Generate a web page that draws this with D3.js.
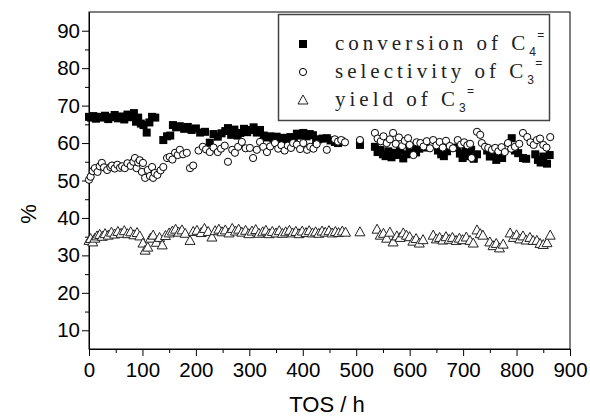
<!DOCTYPE html>
<html>
<head>
<meta charset="utf-8">
<script src="https://cdn.jsdelivr.net/npm/d3@7"></script>
<style>
  body { margin: 0; background: #fff; }
  svg text { font-family: "Liberation Sans", Arial, sans-serif; }
</style>
</head>
<body>
<svg id="chart" width="590" height="416"></svg>
<script>
// time on stream (h) / value (%)
const convT = [0,4,8,13,18,24,30,36,42,48,54,60,66,72,78,84,88,92,97,102,108,113,118,124,139,146,152,157,163,170,178,185,192,200,208,217,226,233,241,248,255,260,266,272,278,283,290,296,301,308,314,320,327,333,339,345,351,357,363,370,377,383,389,395,401,407,413,419,425,429,437,445,452,460,466,472,507,535,540,545,550,555,560,566,571,577,582,588,594,600,606,612,618,624,630,653,659,664,670,689,694,699,705,710,715,720,726,745,750,756,762,768,773,791,797,803,812,818,835,840,845,850,857,862];
const convV = [67,66.8,67.2,66.5,67,66.8,67.3,66.4,66.9,67.5,66.6,67.1,66.3,67.6,66.9,68,65.7,66.8,65.2,64.8,62.8,65.5,67,66.8,60.8,61.8,62,64.8,64.2,64.5,63.8,64.3,63.5,63.9,62.8,63,60.1,62.4,61.7,62.6,63.2,64,62.2,63.6,62,62.7,63.8,62.9,63.5,64.2,62.8,63.5,62,61.5,61.8,61.2,61.7,61,61.4,60.8,61.6,61.2,62.5,62,62.7,61.8,62.4,62.1,60.6,61,61.2,61.3,60.7,60.3,60,60.4,59.5,59,57.6,58.2,57,56.5,57.8,56.2,57.4,56.8,58,55.9,57,59,58.4,57.5,58.5,59.6,58.8,58,57,56.5,57.8,58.8,57.2,56,57.8,56.5,58.2,55.8,57,58,56.4,57.5,55.5,57,56,61.3,58,57.3,56,55.8,57,55.5,54.8,56.4,54.5,56.8];

const selT = [0,3,7,11,16,20,24,28,34,40,43,48,53,58,62,67,72,78,83,86,89,92,95,99,101,105,110,114,118,120,123,128,134,139,146,151,156,161,166,170,176,183,189,195,205,213,219,226,233,241,247,254,260,268,273,279,286,293,301,307,314,320,326,333,339,348,354,360,366,372,378,382,389,395,401,408,414,420,426,445,460,466,472,479,507,535,540,546,551,557,563,569,574,580,586,591,597,600,607,613,620,626,632,638,644,650,656,662,668,675,681,690,696,702,708,713,716,726,732,735,741,747,754,760,766,772,778,784,790,797,805,812,820,826,832,838,844,850,856,863];
const selV = [50.2,51,52.5,53.3,52.3,53.8,54.7,53.5,52.8,53.6,54,53.2,54.2,53.4,53.8,53.3,54.6,53.9,55,56,53.3,54.8,55.4,52.3,54.7,50.7,52.8,51.2,53.6,50.7,52,51.5,52.7,53.6,56,56.3,55.6,57.4,56.8,58.2,57,57.4,53.3,54,58,59,58.3,57.6,58.8,57.6,58.5,59.3,55,58.2,57.4,59,60.3,58.6,58.7,56,58.2,60.3,59,57.6,59.1,60,58.5,59.4,58,59.3,58.7,60,59.6,58.4,60,58.2,59,58.5,59.7,58.2,61,60.4,60.8,60.2,60.8,62.7,61.2,60.5,61.8,60,61,62.7,59.8,61.5,59.2,60.6,61.3,59.5,56.8,60.2,60,59.1,60.5,58.6,60.8,59.4,60.3,58.8,60.6,59.2,58.6,60.8,59.6,60.2,59.4,59.8,56,63,62.2,60,59,58.7,58.2,58.7,57.8,58.9,57.6,60,58.5,59,59.8,62.7,61.6,60.2,59.5,60.8,61.2,59.5,58.8,61.6];

const yldT = [0,3,7,11,15,20,25,30,36,42,48,54,60,66,72,78,84,90,95,101,105,110,115,120,126,132,137,143,150,156,162,168,174,180,189,195,202,210,216,223,230,236,243,249,255,262,268,274,280,286,293,299,305,312,318,325,331,337,343,350,356,362,368,375,381,387,393,399,406,412,418,424,430,436,442,449,455,461,467,474,480,507,539,545,551,557,563,569,576,582,588,594,600,606,612,618,625,644,650,656,662,668,674,680,687,693,699,706,713,719,726,732,737,750,756,762,768,775,788,794,800,806,812,818,825,831,838,844,850,857,863];
const yldV = [34,34.5,33.6,34.6,35.2,35.6,35.1,35.8,35.4,36.2,35.7,36.4,35.9,36.6,35.8,36.3,35.5,36.1,35.2,33.3,31.4,32.2,34.6,35.4,33.5,34.8,32.8,35.3,36,36.5,37,36.2,36.8,35.9,34,36.4,36.7,36.1,37.2,36.4,34.9,36.6,37,36.3,36.8,36,37.2,36.5,37,36.2,36.7,35.8,36.5,36.9,35.9,36.3,36.7,35.8,36.4,36,36.6,35.9,36.3,36.7,36,36.4,35.8,36.5,36.1,36.6,36,36.3,35.9,36.5,36.2,36.6,36,36.4,36.1,36.5,36.2,36.3,37,35.4,35.9,34.6,36.2,33.6,35.2,34.8,36,35.4,35,33.8,34.5,33.3,34.2,35.4,34.4,34.8,34.1,35,34.3,34.8,34,34.6,34.2,34.9,34,33.3,36.8,35.8,35.4,33.6,32.6,33.2,32,33,36,34.8,35.5,34.4,35.2,34.1,34.8,34,34,33.2,32.9,33.4,35.4];

const xTicks = [0,100,200,300,400,500,600,700,800,900];
const yTicks = [10,20,30,40,50,60,70,80,90];

const svg = d3.select("#chart");
const x = d3.scaleLinear([0, 900], [89, 570]);
const y = d3.scaleLinear([5, 95], [349, 12]);

// axes
svg.append("g")
    .attr("transform", "translate(0,349)")
    .call(d3.axisBottom(x).tickValues(xTicks).tickSize(7).tickPadding(6).tickSizeOuter(0));
svg.append("g")
    .attr("transform", "translate(0,349)")
    .call(d3.axisBottom(x).tickValues(d3.range(50, 900, 100)).tickSize(4).tickFormat("").tickSizeOuter(0))
    .select(".domain").remove();

svg.append("g")
    .attr("transform", "translate(89,0)")
    .call(d3.axisLeft(y).tickValues(yTicks).tickSize(7).tickPadding(2).tickSizeOuter(0));
svg.append("g")
    .attr("transform", "translate(89,0)")
    .call(d3.axisLeft(y).tickValues(d3.range(15, 90, 10)).tickSize(4).tickFormat("").tickSizeOuter(0))
    .select(".domain").remove();

svg.selectAll(".tick text").attr("font-size", 20.5).attr("fill", "#000")
    .attr("font-family", "'Liberation Sans', Arial, sans-serif");
svg.selectAll(".tick line").attr("stroke", "#000");
svg.selectAll(".domain").attr("stroke", "#000");

// frame
svg.append("rect")
    .attr("x", x(0)).attr("y", y(95))
    .attr("width", x(900) - x(0)).attr("height", y(5) - y(95))
    .attr("fill", "none").attr("stroke", "#000").attr("stroke-width", 1);

// series
const conv = convT.map((t, i) => ({t, v: convV[i]}));
const sel = selT.map((t, i) => ({t, v: selV[i]}));
const yld = yldT.map((t, i) => ({t, v: yldV[i]}));

svg.selectAll(".conv")
    .data(conv)
    .enter()
    .append("rect")
    .attr("class", "conv")
    .attr("x", d => x(d.t) - 4).attr("y", d => y(d.v) - 4)
    .attr("width", 8).attr("height", 8)
    .attr("fill", "#000");

svg.selectAll(".sel")
    .data(sel)
    .enter()
    .append("circle")
    .attr("class", "sel")
    .attr("cx", d => x(d.t)).attr("cy", d => y(d.v)).attr("r", 3.6)
    .attr("fill", "#fff").attr("stroke", "#000").attr("stroke-width", 1);

const tri = "M0,-5 L5,4 L-5,4 Z";
svg.selectAll(".yld")
    .data(yld)
    .enter()
    .append("path")
    .attr("class", "yld")
    .attr("d", tri)
    .attr("transform", d => "translate(" + x(d.t) + "," + y(d.v) + ")")
    .attr("fill", "#fff").attr("stroke", "#222").attr("stroke-width", 1);

// legend
const leg = svg.append("g");
leg.append("rect")
    .attr("x", 278.5).attr("y", 14.5).attr("width", 271).attr("height", 106)
    .attr("fill", "#fff").attr("stroke", "#444").attr("stroke-width", 1.5);

const legRows = [
    {label: "conversion of C", sub: "4", kind: "sq"},
    {label: "selectivity of C", sub: "3", kind: "ci"},
    {label: "yield of C", sub: "3", kind: "tr"}
];
const serif = "'Liberation Serif', 'DejaVu Serif', serif";
legRows.forEach((r, i) => {
    const cy = 44 + i * 28;
    if (r.kind === "sq") {
        leg.append("rect").attr("x", 299).attr("y", cy - 4).attr("width", 8).attr("height", 8).attr("fill", "#000");
    } else if (r.kind === "ci") {
        leg.append("circle").attr("cx", 303).attr("cy", cy).attr("r", 3.6)
            .attr("fill", "#fff").attr("stroke", "#000");
    } else {
        leg.append("path").attr("d", tri).attr("transform", "translate(303," + cy + ")")
            .attr("fill", "#fff").attr("stroke", "#222");
    }
    const t = leg.append("text")
        .attr("x", 335).attr("y", cy + 6)
        .attr("font-size", 21).attr("letter-spacing", "4px")
        .attr("fill", "#222")
        .style("font-family", serif)
        .text(r.label);
    const w = t.node().getComputedTextLength();
    leg.append("text")
        .attr("x", 335 + w).attr("y", cy + 12)
        .attr("font-size", 12).attr("fill", "#222")
        .style("font-family", "'Liberation Sans', Arial, sans-serif")
        .text(r.sub);
    leg.append("text")
        .attr("x", 335 + w + 8).attr("y", cy - 5)
        .attr("font-size", 12).attr("fill", "#222")
        .style("font-family", "'Liberation Sans', Arial, sans-serif")
        .text("=");
});

// axis titles
svg.append("text")
    .attr("x", 327).attr("y", 412)
    .attr("text-anchor", "middle").attr("font-size", 22)
    .text("TOS / h");
svg.append("text")
    .attr("transform", "translate(36,214) rotate(-90)")
    .attr("text-anchor", "middle").attr("font-size", 22)
    .text("%");
</script>
</body>
</html>
